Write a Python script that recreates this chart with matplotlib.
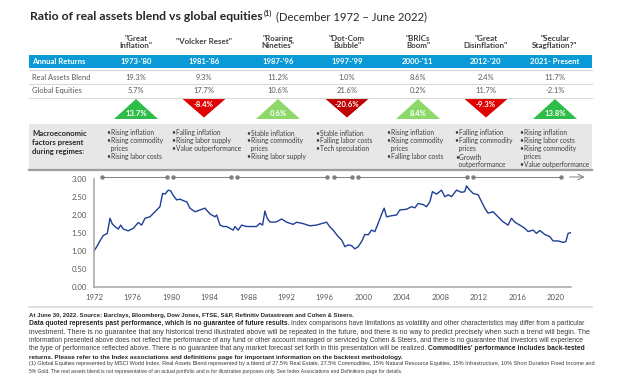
import matplotlib.pyplot as plt
from matplotlib.patches import Polygon, Rectangle
from matplotlib.lines import Line2D

W, H = 624, 381

# regime table
regimes = ['"Great\nInflation"', '"Volcker Reset"', '"Roaring\nNineties"', '"Dot-Com\nBubble"',
           '"BRICs\nBoom"', '"Great\nDisinflation"', '"Secular\nStagflation?"']
periods = ["1973-'80", "1981-'86", "1987-'96", "1997-'99", "2000-'11", "2012-'20", "2021- Present"]
real_assets = [19.3, 9.3, 11.2, 1.0, 8.6, 2.4, 11.7]
global_equities = [5.7, 17.7, 10.6, 21.6, 0.2, 11.7, -2.1]
spread = [13.7, -8.4, 0.6, -20.6, 8.4, -9.3, 13.8]

factors = [
    ["Rising inflation", "Rising commodity\nprices", "Rising labor costs"],
    ["Falling inflation", "Rising labor supply", "Value outperformance"],
    ["Stable inflation", "Rising commodity\nprices", "Rising labor supply"],
    ["Stable inflation", "Falling labor costs", "Tech speculation"],
    ["Rising inflation", "Rising commodity\nprices", "Falling labor costs"],
    ["Falling inflation", "Falling commodity\nprices", "Growth\noutperformance"],
    ["Rising inflation", "Rising labor costs", "Rising commodity\nprices", "Value outperformance"],
]

# regime spans on the timeline (years)
span_start = [1973.75, 1981.1, 1987.77, 1997.85, 2000.35, 2012.3]
span_end = [1980.5, 1987.15, 1997.12, 1999.72, 2011.67, 2021.44]

# ratio of real assets blend vs global equities
years = [1972.92, 1973.20, 1973.54, 1973.88, 1974.30, 1974.58, 1974.82, 1975.10, 1975.44, 1975.69, 1975.96,
         1976.48, 1977.00, 1977.52, 1977.87, 1978.22, 1978.74, 1979.25, 1979.77,
         1980.05, 1980.29, 1980.64, 1980.89, 1981.16, 1981.51, 1981.85, 1982.37, 1982.55, 1982.89,
         1983.41, 1983.93, 1984.45, 1984.97, 1985.49, 1985.67, 1986.01, 1986.35, 1986.70,
         1987.05, 1987.39, 1987.57, 1987.91, 1988.26, 1988.78, 1989.47, 1989.82,
         1990.16, 1990.44, 1990.68, 1990.92, 1991.20, 1991.55, 1991.90, 1992.42, 1992.94,
         1993.62, 1993.98, 1994.66, 1995.36, 1996.05, 1996.57, 1997.09, 1997.44, 1997.78,
         1998.30, 1998.65, 1999.00, 1999.34, 1999.69,
         2000.03, 2000.38, 2000.73, 2001.07, 2001.42, 2001.77, 2002.11, 2002.46, 2002.81,
         2003.08, 2003.33, 2003.85, 2004.37, 2004.71, 2005.40, 2005.92, 2006.27, 2006.61,
         2007.13, 2007.48, 2007.83, 2008.10, 2008.52, 2009.04, 2009.38, 2009.73,
         2010.08, 2010.60, 2011.12, 2011.46, 2011.64, 2011.98, 2012.33, 2012.85,
         2013.20, 2013.54, 2013.88, 2014.40, 2014.92, 2015.44, 2015.96,
         2016.31, 2016.66, 2017.18, 2017.70, 2018.04, 2018.56, 2018.91, 2019.26, 2019.77,
         2020.29, 2020.64, 2021.16, 2021.68, 2021.96, 2022.20, 2022.48]
ratio = [1.00, 1.12, 1.28, 1.43, 1.49, 1.91, 1.75, 1.68, 1.61, 1.72, 1.61,
         1.56, 1.63, 1.79, 1.72, 1.91, 1.95, 2.09, 2.23,
         2.60, 2.58, 2.69, 2.67, 2.54, 2.42, 2.44, 2.38, 2.37, 2.19,
         2.09, 2.14, 2.19, 2.03, 1.95, 2.00, 1.72, 1.68, 1.68,
         1.63, 1.58, 1.68, 1.58, 1.72, 1.68, 1.68, 1.68,
         1.77, 1.72, 2.11, 1.91, 1.81, 1.80, 1.81, 1.89, 1.80,
         1.74, 1.80, 1.76, 1.70, 1.72, 1.76, 1.80, 1.67, 1.58,
         1.40, 1.31, 1.12, 1.17, 1.15,
         1.06, 1.12, 1.26, 1.46, 1.45, 1.58, 1.54, 1.77, 2.02,
         2.19, 1.95, 1.98, 2.00, 2.14, 2.16, 2.23, 2.20, 2.32,
         2.29, 2.23, 2.37, 2.65, 2.58, 2.69, 2.51, 2.56,
         2.51, 2.69, 2.63, 2.65, 2.81, 2.69, 2.60, 2.56,
         2.37, 2.19, 2.05, 2.09, 1.95, 1.81, 1.72,
         1.91, 1.80, 1.72, 1.63, 1.54, 1.58, 1.49, 1.57, 1.46,
         1.40, 1.28, 1.28, 1.24, 1.26, 1.49, 1.51]
tick_years = [1972, 1976, 1980, 1984, 1988, 1992, 1996, 2000, 2004, 2008, 2012, 2016, 2020]

footnote = [
    [("At June 30, 2022. Source: Barclays, Bloomberg, Dow Jones, FTSE, S&P, Refinitiv Datastream and Cohen & Steers.", True)],
    [("Data quoted represents past performance, which is no guarantee of future results.", True),
     ("Index comparisons have limitations as volatility and other characteristics may differ from a particular", False)],
    [("investment. There is no guarantee that any historical trend illustrated above will be repeated in the future, and there is no way to predict precisely when such a trend will begin. The", False)],
    [("information presented above does not reflect the performance of any fund or other account managed or serviced by Cohen & Steers, and there is no guarantee that investors will experience", False)],
    [("the type of performance reflected above. There is no guarantee that any market forecast set forth in this presentation will be realized.", False),
     ("Commodities' performance includes back-tested", True)],
    [("returns. Please refer to the Index associations and definitions page for important information on the backtest methodology.", True)],
]
footnote_small = [
    "(1) Global Equities represented by MSCI World Index. Real Assets Blend represented by a blend of 27.5% Real Estate, 27.5% Commodities, 15% Natural Resource Equities, 15% Infrastructure, 10% Short Duration Fixed Income and",
    "5% Gold. The real assets blend is not representative of an actual portfolio and is for illustrative purposes only. See Index Associations and Definitions page for details.",
]

col_x = [136, 204, 278, 347, 418, 486, 555]
bullet_x = [107, 172, 247, 316, 387, 455, 520]

FONT = ['Lato', 'DejaVu Sans']
NOTE_FONT = ['Liberation Sans Narrow', 'Liberation Sans']
DARK = '#262626'
GREY = '#595959'
BLUE = '#0A9BD7'

fig = plt.figure(figsize=(W / 100, H / 100), dpi=100)
fig.patch.set_facecolor('white')
renderer = fig.canvas.get_renderer()


def fx(x):
    return x / W


def fy(y):
    return 1 - y / H


def txt(x, y, s, **kw):
    kw.setdefault('family', FONT)
    kw.setdefault('va', 'center')
    return fig.text(fx(x), fy(y), s, **kw)


def fit_txt(x, y, s, width, size, **kw):
    # draw text and rescale it so that it spans the given width in pixels
    t = txt(x, y, s, fontsize=size, **kw)
    w = t.get_window_extent(renderer).width
    t.set_fontsize(size * width / w)
    return t


def put_line(segs, x0, y, size, target=None, color=DARK):
    # place text segments one after another; optionally scale to a target width
    def place(sz):
        arts, x = [], x0
        for s, bold in segs:
            t = txt(x, y, s, fontsize=sz, family=NOTE_FONT, color=DARK if bold else '#3A3A3A',
                    fontweight='bold' if bold else 'normal', ha='left')
            x += t.get_window_extent(renderer).width + sz * 100 / 72 * 0.3
            arts.append(t)
        return arts, x - x0 - sz * 100 / 72 * 0.3
    arts, w = place(size)
    if target is None:
        return
    for a in arts:
        a.remove()
    place(size * target / w)


# title
fit_txt(30, 17, "Ratio of real assets blend vs global equities", 233, 8.6, fontweight='bold',
        color=DARK, ha='left')
txt(264, 13, "(1)", fontsize=5.2, fontweight='bold', color=DARK, ha='left')
fit_txt(276, 17, "(December 1972 \u2013 June 2022)", 150, 8.4, color=DARK, ha='left')

# table
for i, cx in enumerate(col_x):
    txt(cx, 42, regimes[i], fontsize=5.8, fontweight='bold', color='#404040', ha='center',
        multialignment='center', linespacing=1.15)

fig.add_artist(Rectangle((fx(29), fy(68)), fx(592) - fx(29), fy(55) - fy(68),
                         transform=fig.transFigure, color=BLUE, lw=0))
txt(32, 61.5, "Annual Returns", fontsize=5.6, fontweight='bold', color='white', ha='left')
for i, cx in enumerate(col_x):
    txt(cx, 61.5, periods[i], fontsize=5.6, fontweight='bold', color='white', ha='center')

txt(32, 77, "Real Assets Blend", fontsize=5.4, color=GREY, ha='left')
txt(32, 90.5, "Global Equities", fontsize=5.4, color=GREY, ha='left')
for i, cx in enumerate(col_x):
    txt(cx, 77, f"{real_assets[i]:.1f}%", fontsize=5.4, color=GREY, ha='center')
    txt(cx, 90.5, f"{global_equities[i]:.1f}%", fontsize=5.4, color=GREY, ha='center')
for yy in [70, 84, 98]:
    fig.add_artist(Line2D([fx(29), fx(592)], [fy(yy), fy(yy)], transform=fig.transFigure,
                          color='#D9D9D9', lw=0.8))


def tri_color(v):
    if v >= 10:
        return '#2DBE4A'
    if v >= 0:
        return '#8CD96A'
    if v <= -15:
        return '#BE0000'
    return '#E00000'


for i, cx in enumerate(col_x):
    v = spread[i]
    if v >= 0:
        pts = [(cx, 99), (cx - 22, 119), (cx + 22, 119)]
        ty = 113.5
    else:
        pts = [(cx - 22, 98.5), (cx + 22, 98.5), (cx, 117.5)]
        ty = 104.5
    fig.add_artist(Polygon([(fx(a), fy(b)) for a, b in pts], closed=True, transform=fig.transFigure,
                           color=tri_color(v), lw=0))
    txt(cx, ty, f"{v:.1f}%", fontsize=5.6, fontweight='bold', color='white', ha='center')

# macro factors band
fig.add_artist(Rectangle((fx(29), fy(170)), fx(592) - fx(29), fy(124) - fy(170),
                         transform=fig.transFigure, color='#E7E7E7', lw=0))
fig.add_artist(Line2D([fx(29), fx(592)], [fy(170.5), fy(170.5)], transform=fig.transFigure,
                      color='#9E9E9E', lw=1.6))
txt(32, 142.5, "Macroeconomic\nfactors present\nduring regimes:", fontsize=5.5, fontweight='bold',
    color=DARK, ha='left', linespacing=1.3)
for i, items in enumerate(factors):
    row = 0
    for item in items:
        for j, part in enumerate(item.split('\n')):
            s = ('\u2022' if j == 0 else '  ') + part
            txt(bullet_x[i], 133 + 8 * row, s, fontsize=4.8, color='#404040', ha='left')
            row += 1

# line chart
ax = fig.add_axes([fx(94), fy(287), fx(571) - fx(94), fy(179) - fy(287)])
ax.plot(years, ratio, color='#1F3F94', lw=1.0)
ax.set_xlim(1972.917, 2022.5)
ax.set_ylim(0, 3)
ax.set_yticks([0, 0.5, 1, 1.5, 2, 2.5, 3])
ax.set_yticklabels([f"{v:.2f}" for v in [0, 0.5, 1, 1.5, 2, 2.5, 3]])
ax.set_xticks([y + 0.917 for y in tick_years])
ax.set_xticklabels([str(y) for y in tick_years])
ax.tick_params(length=0, labelsize=5.6, labelcolor=GREY, pad=5)
for lab in ax.get_xticklabels() + ax.get_yticklabels():
    lab.set_family(FONT)
for s in ['top', 'right']:
    ax.spines[s].set_visible(False)
for s in ['left', 'bottom']:
    ax.spines[s].set_color('#A6A6A6')
    ax.spines[s].set_linewidth(1.1)
ax.patch.set_alpha(0)

# regime timeline above the chart
ty = 3.056
for a, b in zip(span_start, span_end):
    ax.plot([a, b], [ty, ty], color='#7F7F7F', lw=0.7, marker='o', ms=2.2, clip_on=False)
ax.annotate('', xy=(2024.2, ty), xytext=(2022.06, ty), annotation_clip=False,
            arrowprops=dict(arrowstyle='->', color='#7F7F7F', lw=0.7))

# footnotes
fig.add_artist(Line2D([fx(29), fx(592)], [fy(306.5), fy(306.5)], transform=fig.transFigure,
                      color='#D9D9D9', lw=1.2))
note_y = [315, 323.5, 332, 340.5, 348.5, 357]
for k, segs in enumerate(footnote):
    target = 563 if k in (1, 2, 3, 4) else None
    if k == 0:
        target = 327
    if k == 5:
        target = 383
    put_line(segs, 29, note_y[k], 5.0, target)
put_line([(footnote_small[0], False)], 29, 364, 4.0, 563)
put_line([(footnote_small[1], False)], 29, 371, 4.0, 368)

fig.savefig('out.png', dpi=100)
